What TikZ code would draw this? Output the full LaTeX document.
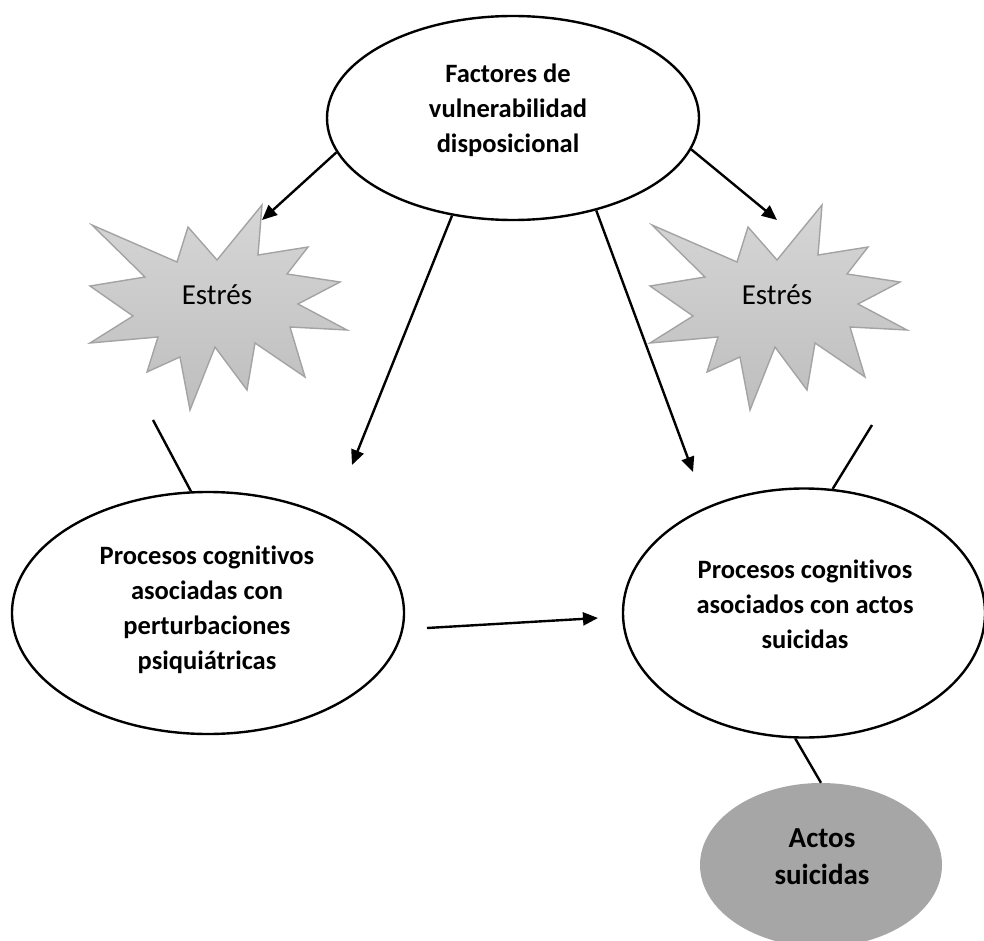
\documentclass[tikz,border=0pt]{standalone}
\usepackage{fontspec}
\setmainfont{Carlito}[Ligatures=NoCommon]
\usetikzlibrary{shapes.geometric,arrows.meta}
\definecolor{stroke}{HTML}{000000}
\definecolor{starline}{HTML}{A3A3A3}
\definecolor{startop}{HTML}{D6D6D6}
\definecolor{starbot}{HTML}{BEBEBE}
\definecolor{actfill}{HTML}{A6A6A6}
\tikzset{
  oval/.style={ellipse, draw=stroke, line width=2.4pt, fill=white, inner sep=0pt},
  ovalgray/.style={ellipse, draw=none, fill=actfill, inner sep=0pt},
  boldtxt/.style={align=center, inner sep=0pt, font=\fontsize{26.5}{35}\selectfont\bfseries},
  acttxt/.style={align=center, inner sep=0pt, font=\fontsize{29}{37}\selectfont\bfseries},
  startxt/.style={inner sep=0pt, font=\fontsize{29}{35}\selectfont},
  explosion/.style={draw=starline, line width=1.4pt, top color=startop, bottom color=starbot, line join=miter},
  arrowline/.style={line width=2.4pt, -{Triangle[length=15pt,width=13pt]}},
  plainline/.style={line width=2.4pt}
}
\begin{document}
\begin{tikzpicture}[x=1pt,y=-1pt]
\useasboundingbox (0,0) rectangle (984,941);
% explosions
\foreach \dx in {0,560}{
  \draw[explosion, shift={(\dx,0)}] (262,205) -- (258,255) -- (308,247) -- (287,274) -- (340,282) -- (298,304)
    -- (347,330) -- (290,327) -- (305,377) -- (255,343) -- (247,390) -- (215,347)
    -- (190,410) -- (180,357) -- (147,372) -- (158,337) -- (90,343) -- (133,316)
    -- (90,286) -- (145,277) -- (92,225) -- (177,262) -- (188,227) -- (217,260) -- cycle;
}
\node[startxt] (est1) at (217,295) {Estrés};
\node[startxt] (est2) at (777,295) {Estrés};

% ellipses
\node[oval, minimum width=372pt, minimum height=204pt] (top) at (513,118) {};
\node[boldtxt] (toptxt) at (508,110) {Factores de\\vulnerabilidad\\disposicional};

\node[oval, minimum width=392pt, minimum height=242pt] (left) at (208,613) {};
\node[boldtxt] (lefttxt) at (207,610) {Procesos cognitivos\\asociadas con\\perturbaciones\\psiquiátricas};

\node[oval, minimum width=362pt, minimum height=249pt] (right) at (804,613) {};
\node[boldtxt] (righttxt) at (805,604) {Procesos cognitivos\\asociados con actos\\suicidas};

\node[ovalgray, minimum width=242pt, minimum height=164pt] (act) at (821,865) {};
\node[acttxt] (acttxt) at (822,857) {Actos\\suicidas};

% free endpoints
\coordinate (t1) at (262,220);
\coordinate (t2) at (352,465);
\coordinate (t3) at (693,472);
\coordinate (t4) at (777,220);
\coordinate (h1) at (427,628);
\coordinate (h2) at (598,618);
\coordinate (s1) at (153,420);
\coordinate (s2) at (872,425);

% connectors
\draw[arrowline] (top.191) -- (t1);
\draw[arrowline] (top.238) -- (t2);
\draw[arrowline] (top.312) -- (t3);
\draw[arrowline] (top.350) -- (t4);
\draw[arrowline] (h1) -- (h2);
\draw[plainline] (s1) -- (left.98);
\draw[plainline] (s2) -- (right.77);
\draw[plainline] (right.266) -- (act.90);
\end{tikzpicture}
\end{document}
